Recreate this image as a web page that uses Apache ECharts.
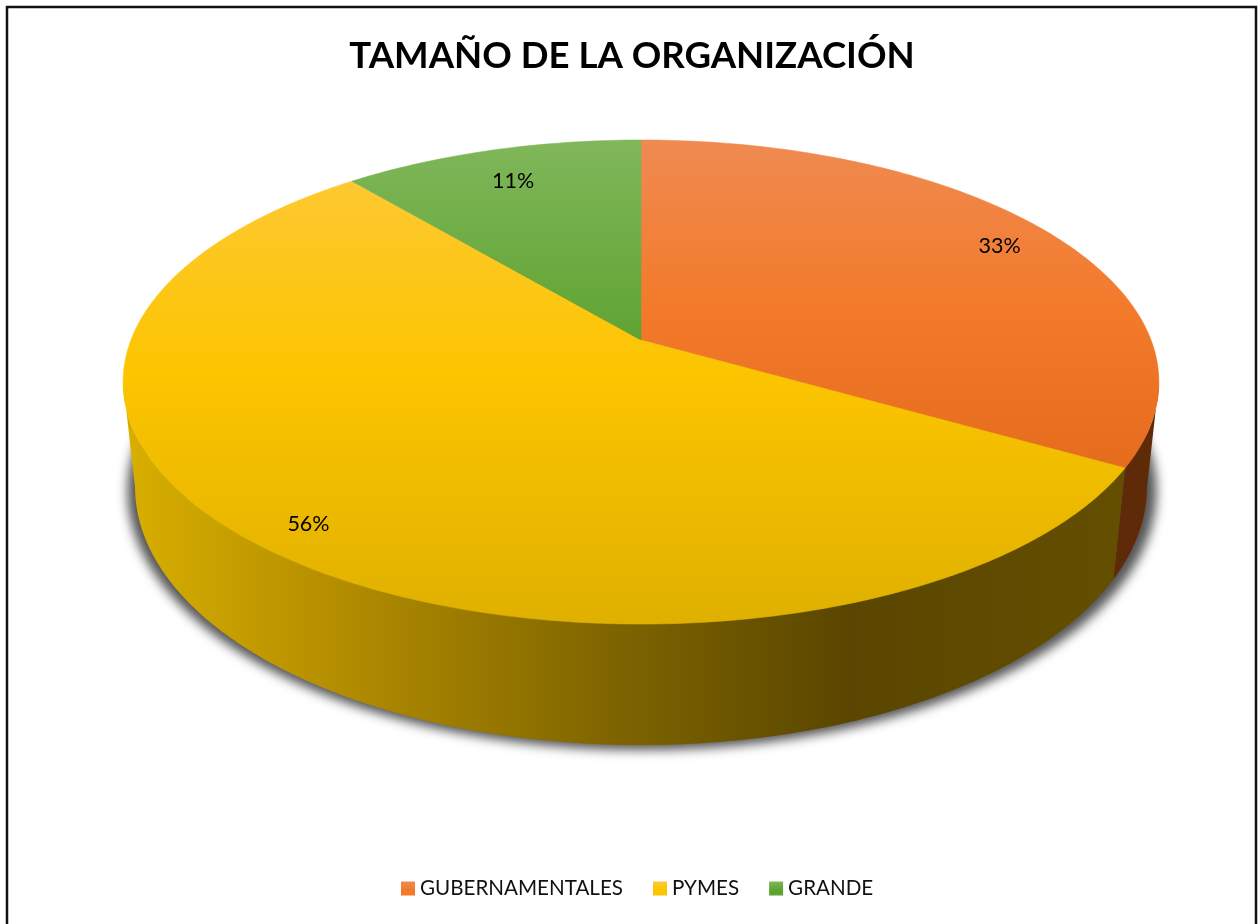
<!DOCTYPE html>
<html>
<head>
<meta charset="utf-8">
<title>Tamaño de la organización</title>
<script src="https://cdn.jsdelivr.net/npm/echarts@6/dist/echarts.min.js"></script>
<style>
  html, body { margin: 0; padding: 0; background: #fff; overflow: hidden; }
  #main { width: 1259px; height: 924px; }
</style>
</head>
<body>
<div id="main"></div>
<script>
var categories = ["GUBERNAMENTALES", "PYMES", "GRANDE"];
// shares, they round to the printed 33 / 56 / 11
var shares = [33.3, 55.6, 11.1];

// the disc is a circle seen in perspective, these fit the reference outline
var topDisc = { cx: 641, spread: 510, a: -175.7, b: 340, c: 0.1736 };
var bottomDisc = { cx: 641, spread: 498.6, a: -175.4, b: 443, c: 0.17 };
var shadowDisc = { cx: 642, spread: 507, a: -175.4, b: 447, c: 0.17 };
var labelRadius = [0.877, 0.892, 0.826];
// part of the rim that faces the viewer, degrees clockwise from the top
var frontFrom = 100;
var frontTo = 260;

var topStops = [
  [{ offset: 0, color: "#ef8a52" }, { offset: 0.35, color: "#f37a2a" }, { offset: 1, color: "#d85f10" }],
  [{ offset: 0, color: "#fec93c" }, { offset: 0.48, color: "#fcc500" }, { offset: 1, color: "#dfb000" }],
  [{ offset: 0, color: "#80b75a" }, { offset: 0.42, color: "#5fa331" }, { offset: 1, color: "#4f8b28" }]
];
var wallStops = [
  [{ offset: 0, color: "#62300a" }, { offset: 1, color: "#5e2a08" }],
  [
    { offset: 0, color: "#d8ae00" },
    { offset: 0.2, color: "#b58f00" },
    { offset: 0.5, color: "#7d6300" },
    { offset: 0.73, color: "#5a4600" },
    { offset: 1, color: "#644e00" }
  ],
  [{ offset: 0, color: "#3c6520" }, { offset: 1, color: "#3c6520" }]
];

function project(disc, deg, r) {
  var t = (deg * Math.PI) / 180;
  var u = r * Math.sin(t);
  var v = r * Math.cos(t);
  var w = 1 + disc.c * v;
  return [disc.cx + (disc.spread * u) / w, (disc.a * v + disc.b) / w];
}

function arc(disc, from, to) {
  var pts = [];
  var n = Math.max(2, Math.ceil(Math.abs(to - from)));
  for (var i = 0; i <= n; i++) {
    pts.push(project(disc, from + ((to - from) * i) / n, 1));
  }
  return pts;
}

var total = shares.reduce(function (s, v) { return s + v; }, 0);

function startAngle(idx) {
  var sum = 0;
  for (var i = 0; i < idx; i++) sum += shares[i];
  return (sum / total) * 360;
}

function sliceItem(idx) {
  return function (params, api) {
    var from = startAngle(idx);
    var to = from + (api.value(0) / total) * 360;
    var mid = project(topDisc, (from + to) / 2, labelRadius[idx]);
    var topFill = new echarts.graphic.LinearGradient(0, 140, 0, 624, topStops[idx], true);
    var children = [
      {
        type: "polygon",
        z2: 2,
        shape: { points: [project(topDisc, 0, 0)].concat(arc(topDisc, from, to)) },
        style: { fill: topFill, stroke: topFill, lineWidth: 0.6 }
      },
      {
        type: "text",
        z2: 3,
        style: {
          text: Math.round((api.value(0) / total) * 100) + "%",
          x: mid[0] - 1,
          y: mid[1] + 2,
          align: "center",
          verticalAlign: "middle",
          fill: "#000",
          font: "21.5px Lato"
        }
      }
    ];
    // only the front of the rim gets a wall, the back would fold over it
    var wallFrom = Math.max(from, frontFrom);
    var wallTo = Math.min(to, frontTo);
    if (wallTo > wallFrom) {
      children.push({
        type: "polygon",
        z2: 1,
        shape: { points: arc(topDisc, wallFrom, wallTo).concat(arc(bottomDisc, wallFrom, wallTo).reverse()) },
        style: { fill: new echarts.graphic.LinearGradient(130, 0, 1115, 0, wallStops[idx], true) }
      });
    }
    return { type: "group", children: children };
  };
}

// the shape sits off the canvas so that only its soft shadow lands on the page
function shadowItem() {
  return {
    type: "polygon",
    x: -3000,
    shape: { points: arc(shadowDisc, 0, 360) },
    style: {
      fill: "#555",
      shadowBlur: 11,
      shadowColor: "#555",
      shadowOffsetX: 3000
    }
  };
}

var series = [
  {
    type: "custom",
    name: "sombra",
    coordinateSystem: "none",
    silent: true,
    z: 1,
    data: [1],
    renderItem: shadowItem
  }
];
categories.forEach(function (name, idx) {
  series.push({
    type: "custom",
    name: name,
    coordinateSystem: "none",
    z: 2,
    data: [shares[idx]],
    itemStyle: { color: topStops[idx][1].color },
    renderItem: sliceItem(idx)
  });
});

var myChart = echarts.init(document.getElementById("main"));
var option = {
  animation: false,
  title: {
    text: "TAMAÑO DE LA ORGANIZACIÓN",
    left: 627,
    top: 33,
    textAlign: "center",
    textStyle: { fontFamily: "Lato", fontWeight: "bold", fontSize: 36.6, color: "#000" }
  },
  legend: {
    left: 396,
    top: 873,
    itemWidth: 14,
    itemHeight: 14,
    itemGap: 30,
    selectedMode: false,
    icon: "rect",
    textStyle: { fontFamily: "Lato", fontSize: 20.6, color: "#111" },
    data: categories.map(function (name, idx) {
      return {
        name: name,
        itemStyle: {
          color: new echarts.graphic.LinearGradient(0, 0, 0, 1, [
            { offset: 0, color: topStops[idx][0].color },
            { offset: 0.6, color: topStops[idx][1].color }
          ])
        }
      };
    })
  },
  graphic: [
    {
      type: "rect",
      silent: true,
      shape: { x: 7, y: 7, width: 1249, height: 930 },
      style: { fill: "none", stroke: "#111", lineWidth: 2.5 }
    }
  ],
  series: series
};
option && myChart.setOption(option);
</script>
</body>
</html>
